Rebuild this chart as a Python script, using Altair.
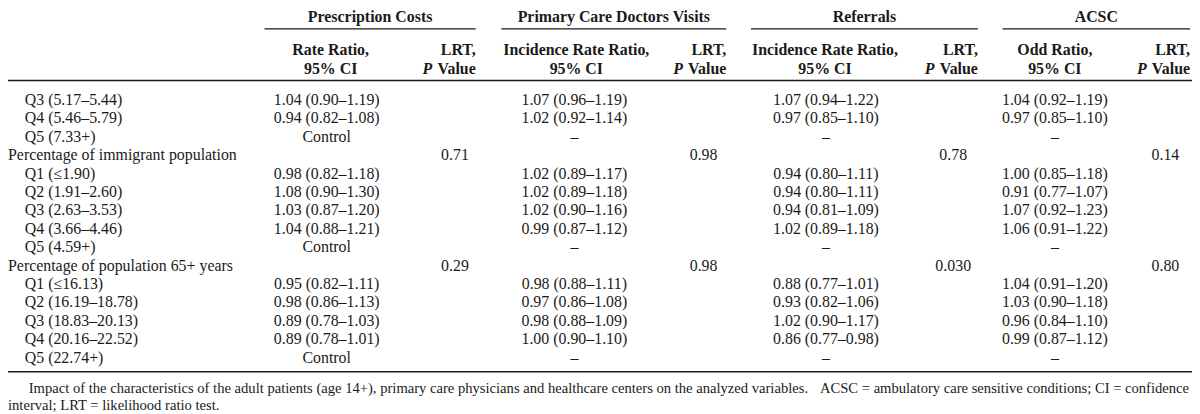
import altair as alt
import pandas as pd

# ---------------- data ----------------
row_labels = [
    "Q3 (5.17–5.44)", "Q4 (5.46–5.79)", "Q5 (7.33+)",
    "Percentage of immigrant population",
    "Q1 (≤1.90)", "Q2 (1.91–2.60)", "Q3 (2.63–3.53)", "Q4 (3.66–4.46)", "Q5 (4.59+)",
    "Percentage of population 65+ years",
    "Q1 (≤16.13)", "Q2 (16.19–18.78)", "Q3 (18.83–20.13)", "Q4 (20.16–22.52)", "Q5 (22.74+)",
]
group_rows = [3, 9]

presc_ratio = ["1.04 (0.90–1.19)", "0.94 (0.82–1.08)", "Control", "",
               "0.98 (0.82–1.18)", "1.08 (0.90–1.30)", "1.03 (0.87–1.20)", "1.04 (0.88–1.21)", "Control", "",
               "0.95 (0.82–1.11)", "0.98 (0.86–1.13)", "0.89 (0.78–1.03)", "0.89 (0.78–1.01)", "Control"]
presc_p = ["", "", "", "0.71", "", "", "", "", "", "0.29", "", "", "", "", ""]

pcdv_ratio = ["1.07 (0.96–1.19)", "1.02 (0.92–1.14)", "–", "",
              "1.02 (0.89–1.17)", "1.02 (0.89–1.18)", "1.02 (0.90–1.16)", "0.99 (0.87–1.12)", "–", "",
              "0.98 (0.88–1.11)", "0.97 (0.86–1.08)", "0.98 (0.88–1.09)", "1.00 (0.90–1.10)", "–"]
pcdv_p = ["", "", "", "0.98", "", "", "", "", "", "0.98", "", "", "", "", ""]

ref_ratio = ["1.07 (0.94–1.22)", "0.97 (0.85–1.10)", "–", "",
             "0.94 (0.80–1.11)", "0.94 (0.80–1.11)", "0.94 (0.81–1.09)", "1.02 (0.89–1.18)", "–", "",
             "0.88 (0.77–1.01)", "0.93 (0.82–1.06)", "1.02 (0.90–1.17)", "0.86 (0.77–0.98)", "–"]
ref_p = ["", "", "", "0.78", "", "", "", "", "", "0.030", "", "", "", "", ""]

acsc_ratio = ["1.04 (0.92–1.19)", "0.97 (0.85–1.10)", "–", "",
              "1.00 (0.85–1.18)", "0.91 (0.77–1.07)", "1.07 (0.92–1.23)", "1.06 (0.91–1.22)", "–", "",
              "1.04 (0.91–1.20)", "1.03 (0.90–1.18)", "0.96 (0.84–1.10)", "0.99 (0.87–1.12)", "–"]
acsc_p = ["", "", "", "0.14", "", "", "", "", "", "0.80", "", "", "", "", ""]

group_titles = ["Prescription Costs", "Primary Care Doctors Visits", "Referrals", "ACSC"]
ratio_head_1 = ["Rate Ratio,", "Incidence Rate Ratio,", "Incidence Rate Ratio,", "Odd Ratio,"]
ratio_head_2 = ["95% CI", "95% CI", "95% CI", "95% CI"]
lrt_head_1 = "LRT,"
lrt_head_p = "P"
lrt_head_2 = "Value"

footer_1_left = ("Impact of the characteristics of the adult patients (age 14+), primary care "
                 "physicians and healthcare centers on the analyzed variables.")
footer_1_right = "ACSC = ambulatory care sensitive conditions; CI = confidence"
footer_2 = "interval; LRT = likelihood ratio test."

# ---------------- layout ----------------
W, H = 1200, 414
FS = 16
FS_FOOT = 14.7
ROW_Y0, ROW_DY = 93, 18.9
Y_GROUP, Y_ULINE, Y_SUB1, Y_SUB2, Y_TOP_RULE = 8, 20, 42, 61, 73
Y_BOTTOM_RULE, Y_FOOT1, Y_FOOT2 = 372, 390, 407
X_GROUP_LABEL, X_SUB_LABEL = 0, 17
col_ratio_x = [323, 574, 829, 1061]
col_head_x = [327, 576, 828, 1061]
col_p_x = [453, 705, 958, 1173]
col_lrt_right = [474, 728, 983, 1198]
group_span = [(260, 474), (500, 728), (753, 983), (1008, 1198)]
P_OFFSET = 44  # width of "Value " in bold type

ratios = [presc_ratio, pcdv_ratio, ref_ratio, acsc_ratio]
pvals = [presc_p, pcdv_p, ref_p, acsc_p]

cells = []
def add(x, y, t, kind):
    if t != "":
        cells.append({"x": x, "y": y, "text": t, "kind": kind})

for i, lab in enumerate(row_labels):
    y = ROW_Y0 + i * ROW_DY
    if i in group_rows:
        add(X_GROUP_LABEL, y, lab, "left")
    else:
        add(X_SUB_LABEL, y, lab, "left")
    for c in range(4):
        add(col_ratio_x[c], y, ratios[c][i], "center")
        add(col_p_x[c], y, pvals[c][i], "center")

for c in range(4):
    a, b = group_span[c]
    add((a + b) / 2, Y_GROUP, group_titles[c], "bcenter")
    add(col_head_x[c], Y_SUB1, ratio_head_1[c], "bcenter")
    add(col_head_x[c], Y_SUB2, ratio_head_2[c], "bcenter")
    add(col_lrt_right[c], Y_SUB1, lrt_head_1, "bright")
    add(col_lrt_right[c], Y_SUB2, lrt_head_2, "bright")
    add(col_lrt_right[c] - P_OFFSET, Y_SUB2, lrt_head_p, "biright")

add(21, Y_FOOT1, footer_1_left, "fleft")
add(1197, Y_FOOT1, footer_1_right, "fright")
add(0, Y_FOOT2, footer_2, "fleft")

df = pd.DataFrame(cells)

rules = [{"x": a, "x2": b, "y": Y_ULINE, "w": 1.1} for a, b in group_span]
rules.append({"x": 0, "x2": W, "y": Y_TOP_RULE, "w": 1.7})
rules.append({"x": 0, "x2": W, "y": Y_BOTTOM_RULE, "w": 1.7})
rdf = pd.DataFrame(rules)

xs = alt.Scale(domain=[0, W], nice=False, zero=False)
ys = alt.Scale(domain=[0, H], nice=False, zero=False, reverse=True)
FONT = "Liberation Serif"
COL = "#1a1a1a"

def text_layer(kind, align, weight="normal", style="normal", size=FS):
    return alt.Chart(df).transform_filter(alt.datum.kind == kind).mark_text(
        align=align, baseline="middle", font=FONT, fontSize=size,
        fontWeight=weight, fontStyle=style, color=COL
    ).encode(
        x=alt.X("x:Q", scale=xs, axis=None),
        y=alt.Y("y:Q", scale=ys, axis=None),
        text="text:N",
    )

rule_layer = alt.Chart(rdf).mark_rule(color=COL).encode(
    x=alt.X("x:Q", scale=xs, axis=None),
    x2="x2:Q",
    y=alt.Y("y:Q", scale=ys, axis=None),
    strokeWidth=alt.StrokeWidth("w:Q", scale=None, legend=None),
)

chart = alt.layer(
    rule_layer,
    text_layer("left", "left"),
    text_layer("center", "center"),
    text_layer("bcenter", "center", "bold"),
    text_layer("bright", "right", "bold"),
    text_layer("biright", "right", "bold", "italic"),
    text_layer("fleft", "left", size=FS_FOOT),
    text_layer("fright", "right", size=FS_FOOT),
).properties(
    width=W - 8, height=H - 8, padding=0,
    autosize=alt.AutoSizeParams(type="none"),
    background="white",
).configure_view(stroke=None)

chart.save("out.html", embed_options={"renderer": "svg", "actions": False})
